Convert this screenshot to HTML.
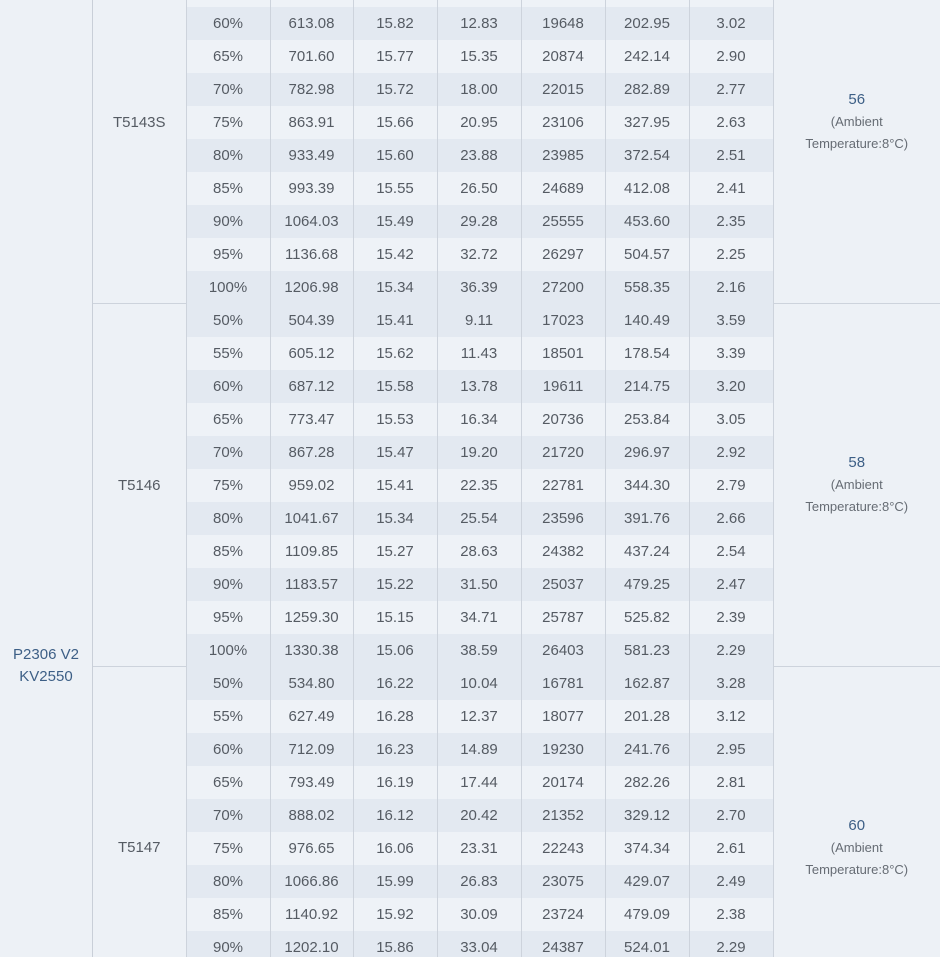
<!DOCTYPE html>
<html><head><meta charset="utf-8">
<style>
html,body{margin:0;padding:0;width:940px;height:957px;overflow:hidden;}
body{position:relative;background:#eef2f7;font-family:"Liberation Sans","DejaVu Sans",sans-serif;color:#555b63;}
.wrap{position:absolute;left:0;top:0;width:940px;height:957px;overflow:hidden;}
.c1{position:absolute;left:0;top:0;width:92px;height:957px;border-right:1px solid #c9cfd8;background:#edf1f6;}
.c1 div{position:absolute;left:0;width:92px;text-align:center;color:#3d5f86;font-size:15px;line-height:22px;top:644px;}
table{position:absolute;left:93px;top:-60px;border-collapse:collapse;table-layout:fixed;width:847px;}
td{height:33px;padding:0;text-align:center;font-size:15px;border-right:1px solid #cdd3dc;white-space:nowrap;}
td.g{background:#edf1f6;border-top:1px solid #cdd3dc;border-bottom:1px solid #cdd3dc;}
td.t{background:#edf1f6;border-right:none;border-top:1px solid #cdd3dc;border-bottom:1px solid #cdd3dc;font-size:13px;line-height:22px;color:#666c74;}
td.t b{font-weight:normal;color:#3d5f86;font-size:15px;}
td.last{border-bottom:none;vertical-align:top;}
td.g.last{padding-top:170px;line-height:22px;}
td.t.last{padding-top:148px;}
tr.s td.d{background:#e3e9f1;}
tr.l td.d{background:#eef2f7;}
</style></head><body>
<div class="wrap">
<div class="c1"><div>P2306 V2<br>KV2550</div></div>
<table>
<colgroup><col style="width:93px"><col style="width:84px"><col style="width:83px"><col style="width:84px"><col style="width:84px"><col style="width:84px"><col style="width:84px"><col style="width:84px"><col style="width:167px"></colgroup>
<tr class="s"><td class="g" rowspan="11">T5143S</td><td class="d">50%</td><td class="d"></td><td class="d"></td><td class="d"></td><td class="d"></td><td class="d"></td><td class="d"></td><td class="t" rowspan="11"><b>56</b><br>(Ambient<br>Temperature:8°C)</td></tr>
<tr class="l"><td class="d">55%</td><td class="d"></td><td class="d"></td><td class="d"></td><td class="d"></td><td class="d"></td><td class="d"></td></tr>
<tr class="s"><td class="d">60%</td><td class="d">613.08</td><td class="d">15.82</td><td class="d">12.83</td><td class="d">19648</td><td class="d">202.95</td><td class="d">3.02</td></tr>
<tr class="l"><td class="d">65%</td><td class="d">701.60</td><td class="d">15.77</td><td class="d">15.35</td><td class="d">20874</td><td class="d">242.14</td><td class="d">2.90</td></tr>
<tr class="s"><td class="d">70%</td><td class="d">782.98</td><td class="d">15.72</td><td class="d">18.00</td><td class="d">22015</td><td class="d">282.89</td><td class="d">2.77</td></tr>
<tr class="l"><td class="d">75%</td><td class="d">863.91</td><td class="d">15.66</td><td class="d">20.95</td><td class="d">23106</td><td class="d">327.95</td><td class="d">2.63</td></tr>
<tr class="s"><td class="d">80%</td><td class="d">933.49</td><td class="d">15.60</td><td class="d">23.88</td><td class="d">23985</td><td class="d">372.54</td><td class="d">2.51</td></tr>
<tr class="l"><td class="d">85%</td><td class="d">993.39</td><td class="d">15.55</td><td class="d">26.50</td><td class="d">24689</td><td class="d">412.08</td><td class="d">2.41</td></tr>
<tr class="s"><td class="d">90%</td><td class="d">1064.03</td><td class="d">15.49</td><td class="d">29.28</td><td class="d">25555</td><td class="d">453.60</td><td class="d">2.35</td></tr>
<tr class="l"><td class="d">95%</td><td class="d">1136.68</td><td class="d">15.42</td><td class="d">32.72</td><td class="d">26297</td><td class="d">504.57</td><td class="d">2.25</td></tr>
<tr class="s"><td class="d">100%</td><td class="d">1206.98</td><td class="d">15.34</td><td class="d">36.39</td><td class="d">27200</td><td class="d">558.35</td><td class="d">2.16</td></tr>

<tr class="s"><td class="g" rowspan="11">T5146</td><td class="d">50%</td><td class="d">504.39</td><td class="d">15.41</td><td class="d">9.11</td><td class="d">17023</td><td class="d">140.49</td><td class="d">3.59</td><td class="t" rowspan="11"><b>58</b><br>(Ambient<br>Temperature:8°C)</td></tr>
<tr class="l"><td class="d">55%</td><td class="d">605.12</td><td class="d">15.62</td><td class="d">11.43</td><td class="d">18501</td><td class="d">178.54</td><td class="d">3.39</td></tr>
<tr class="s"><td class="d">60%</td><td class="d">687.12</td><td class="d">15.58</td><td class="d">13.78</td><td class="d">19611</td><td class="d">214.75</td><td class="d">3.20</td></tr>
<tr class="l"><td class="d">65%</td><td class="d">773.47</td><td class="d">15.53</td><td class="d">16.34</td><td class="d">20736</td><td class="d">253.84</td><td class="d">3.05</td></tr>
<tr class="s"><td class="d">70%</td><td class="d">867.28</td><td class="d">15.47</td><td class="d">19.20</td><td class="d">21720</td><td class="d">296.97</td><td class="d">2.92</td></tr>
<tr class="l"><td class="d">75%</td><td class="d">959.02</td><td class="d">15.41</td><td class="d">22.35</td><td class="d">22781</td><td class="d">344.30</td><td class="d">2.79</td></tr>
<tr class="s"><td class="d">80%</td><td class="d">1041.67</td><td class="d">15.34</td><td class="d">25.54</td><td class="d">23596</td><td class="d">391.76</td><td class="d">2.66</td></tr>
<tr class="l"><td class="d">85%</td><td class="d">1109.85</td><td class="d">15.27</td><td class="d">28.63</td><td class="d">24382</td><td class="d">437.24</td><td class="d">2.54</td></tr>
<tr class="s"><td class="d">90%</td><td class="d">1183.57</td><td class="d">15.22</td><td class="d">31.50</td><td class="d">25037</td><td class="d">479.25</td><td class="d">2.47</td></tr>
<tr class="l"><td class="d">95%</td><td class="d">1259.30</td><td class="d">15.15</td><td class="d">34.71</td><td class="d">25787</td><td class="d">525.82</td><td class="d">2.39</td></tr>
<tr class="s"><td class="d">100%</td><td class="d">1330.38</td><td class="d">15.06</td><td class="d">38.59</td><td class="d">26403</td><td class="d">581.23</td><td class="d">2.29</td></tr>

<tr class="s"><td class="g last" rowspan="9">T5147</td><td class="d">50%</td><td class="d">534.80</td><td class="d">16.22</td><td class="d">10.04</td><td class="d">16781</td><td class="d">162.87</td><td class="d">3.28</td><td class="t last" rowspan="9"><b>60</b><br>(Ambient<br>Temperature:8°C)</td></tr>
<tr class="l"><td class="d">55%</td><td class="d">627.49</td><td class="d">16.28</td><td class="d">12.37</td><td class="d">18077</td><td class="d">201.28</td><td class="d">3.12</td></tr>
<tr class="s"><td class="d">60%</td><td class="d">712.09</td><td class="d">16.23</td><td class="d">14.89</td><td class="d">19230</td><td class="d">241.76</td><td class="d">2.95</td></tr>
<tr class="l"><td class="d">65%</td><td class="d">793.49</td><td class="d">16.19</td><td class="d">17.44</td><td class="d">20174</td><td class="d">282.26</td><td class="d">2.81</td></tr>
<tr class="s"><td class="d">70%</td><td class="d">888.02</td><td class="d">16.12</td><td class="d">20.42</td><td class="d">21352</td><td class="d">329.12</td><td class="d">2.70</td></tr>
<tr class="l"><td class="d">75%</td><td class="d">976.65</td><td class="d">16.06</td><td class="d">23.31</td><td class="d">22243</td><td class="d">374.34</td><td class="d">2.61</td></tr>
<tr class="s"><td class="d">80%</td><td class="d">1066.86</td><td class="d">15.99</td><td class="d">26.83</td><td class="d">23075</td><td class="d">429.07</td><td class="d">2.49</td></tr>
<tr class="l"><td class="d">85%</td><td class="d">1140.92</td><td class="d">15.92</td><td class="d">30.09</td><td class="d">23724</td><td class="d">479.09</td><td class="d">2.38</td></tr>
<tr class="s"><td class="d">90%</td><td class="d">1202.10</td><td class="d">15.86</td><td class="d">33.04</td><td class="d">24387</td><td class="d">524.01</td><td class="d">2.29</td></tr>
</table>
</div>
</body></html>
